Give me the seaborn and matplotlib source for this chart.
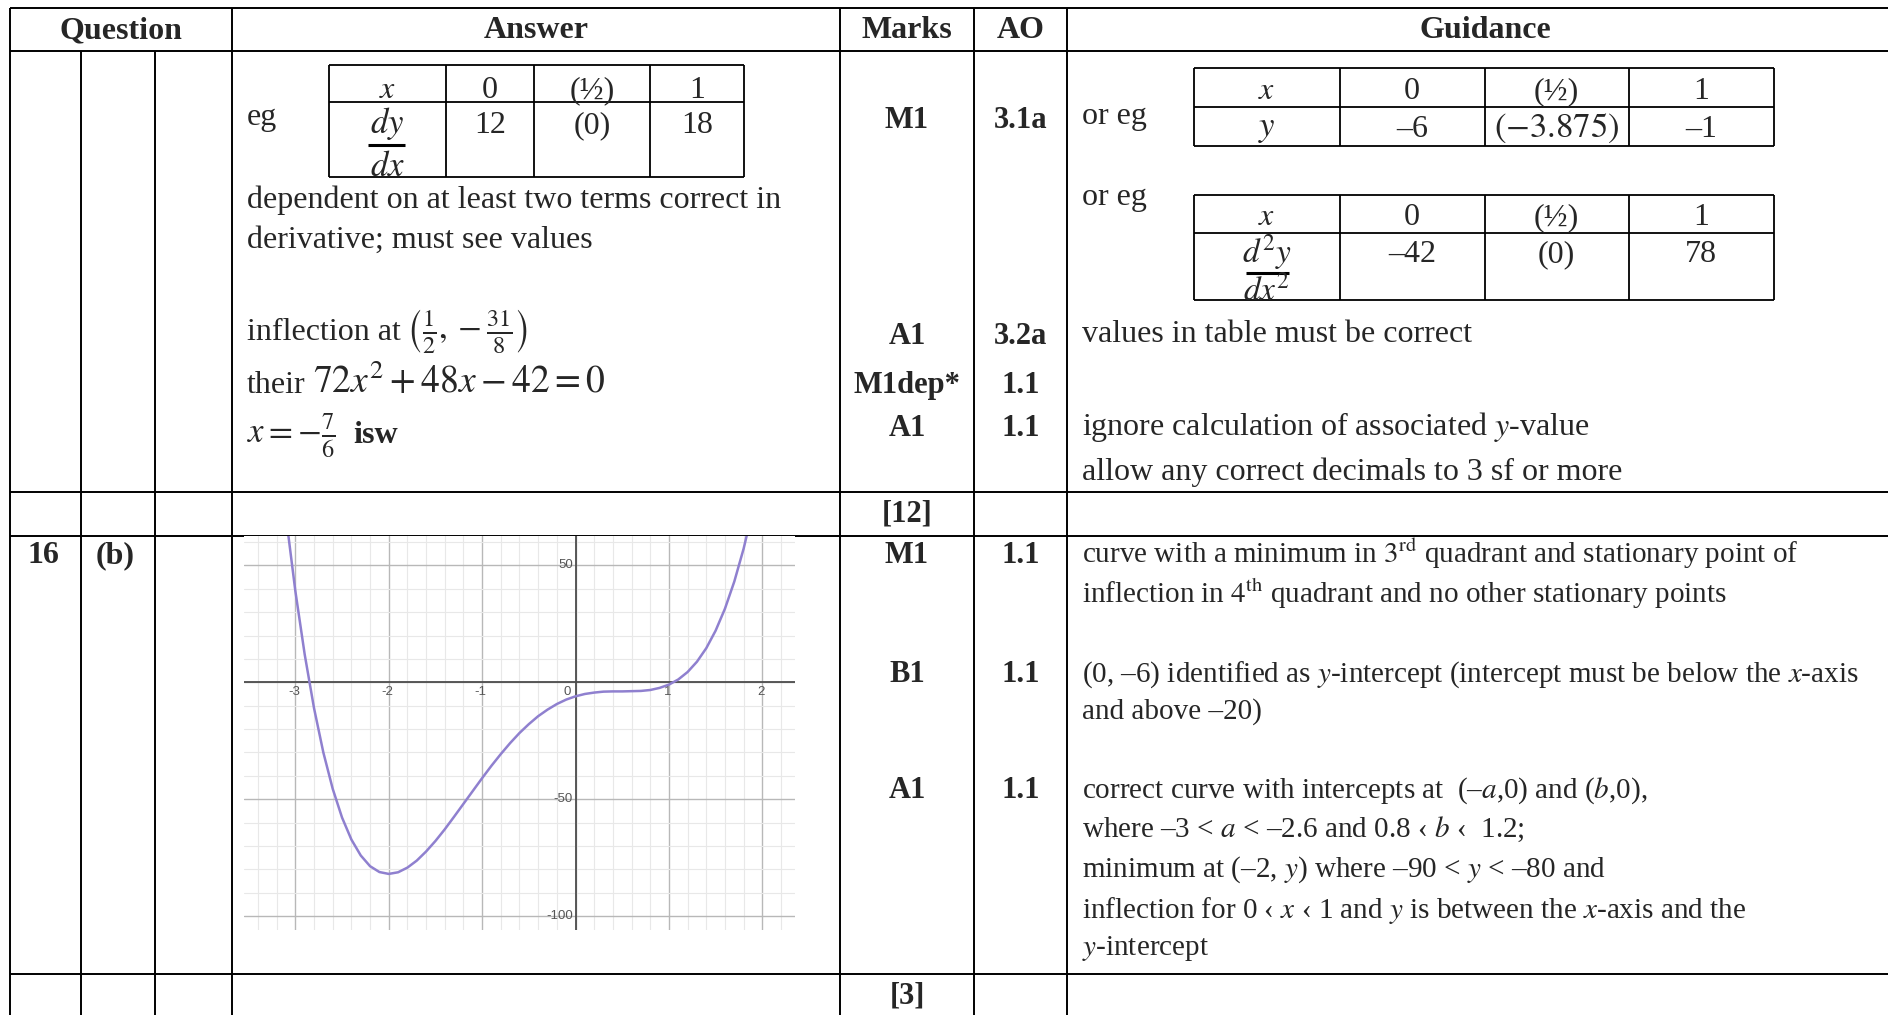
import matplotlib
matplotlib.use("Agg")
import matplotlib.pyplot as plt
from matplotlib.ticker import MultipleLocator
import seaborn as sns

# sketch graph for 16(b) (x step 0.1)
curve_x = [-3.1, -3.0, -2.9, -2.8, -2.7, -2.6, -2.5, -2.4, -2.3, -2.2, -2.1,
           -2.0, -1.9, -1.8, -1.7, -1.6, -1.5, -1.4, -1.3, -1.2, -1.1,
           -1.0, -0.9, -0.8, -0.7, -0.6, -0.5, -0.4, -0.3, -0.2, -0.1,
           0.0, 0.1, 0.2, 0.3, 0.4, 0.5, 0.6, 0.7, 0.8, 0.9,
           1.0, 1.1, 1.2, 1.3, 1.4, 1.5, 1.6, 1.7, 1.8, 1.9]
curve_y = [70.8, 39.0, 11.9, -11.1, -30.1, -45.6, -57.9, -67.3, -74.1, -78.7, -81.2,
           -82.0, -81.3, -79.3, -76.3, -72.4, -67.9, -62.9, -57.5, -52.0, -46.5,
           -41.0, -35.7, -30.7, -26.0, -21.7, -17.9, -14.5, -11.7, -9.3, -7.4,
           -6.0, -5.0, -4.4, -4.0, -3.9, -3.9, -3.8, -3.7, -3.3, -2.4,
           -1.0, 1.2, 4.4, 8.8, 14.6, 22.1, 31.5, 43.1, 57.2, 74.1]
graph_xlabels = [-3, -2, -1, 0, 1, 2]
graph_ylabels = [50, -50, -100]

# small value tables
tab_x = ['$x$', '0', '(½)', '1']
tab_dydx = ['12', '(0)', '18']
tab_y = ['–6', '$(-3.875)$', '–1']
tab_d2y = ['–42', '(0)', '78']

headers = ['Question', 'Answer', 'Marks', 'AO', 'Guidance']
marks_rows = [('M1', '3.1a', 128), ('A1', '3.2a', 344), ('M1dep*', '1.1', 393),
              ('A1', '1.1', 436), ('M1', '1.1', 563), ('B1', '1.1', 682),
              ('A1', '1.1', 798)]
totals = [('[12]', 522), ('[3]', 1003)]

answer_lines = [
    ('dependent on at least two terms correct in', 208),
    ('derivative; must see values', 248),
]
guidance_top = [
    ('values in table must be correct', 342),
    ('ignore calculation of associated $y$-value', 435),
    ('allow any correct decimals to 3 sf or more', 480),
]
guidance_bottom = [
    (r'curve with a minimum in $3^{\mathrm{rd}}$ quadrant and stationary point of', 563),
    (r'inflection in $4^{\mathrm{th}}$ quadrant and no other stationary points', 603),
    ('(0, –6) identified as $y$-intercept (intercept must be below the $x$-axis', 682),
    ('and above –20)', 719),
    ('correct curve with intercepts at  (–$a$,0) and ($b$,0),', 798),
    ('where –3 < $a$ < –2.6 and 0.8 ‹ $b$ ‹  1.2;', 837),
    ('minimum at (–2, $y$) where –90 < $y$ < –80 and', 877),
    ('inflection for 0 ‹ $x$ ‹ 1 and $y$ is between the $x$-axis and the', 918),
    ('$y$-intercept', 955),
]

sns.set_style("white")
plt.rcParams['font.family'] = ['Liberation Serif', 'DejaVu Serif']
plt.rcParams['mathtext.fontset'] = 'stix'

W, H = 1888, 1015
fig = plt.figure(figsize=(W / 100, H / 100), dpi=100)
ax = fig.add_axes([0, 0, 1, 1])
ax.set_xlim(0, W)
ax.set_ylim(H, 0)
ax.axis('off')

LW = 1.4


def hline(y, x0, x1, lw=LW):
    ax.plot([x0, x1], [y, y], color='black', lw=lw, solid_capstyle='butt')


def vline(x, y0, y1, lw=LW):
    ax.plot([x, x], [y0, y1], color='black', lw=lw, solid_capstyle='butt')


def put(x, y, s, size=23, ha='left', weight='normal'):
    ax.text(x, y, s, fontsize=size, ha=ha, va='baseline', fontweight=weight)


# main grid of the mark scheme
for y in [8, 50.5, 492, 536, 974]:
    hline(y, 9.6, W)
for x in [9.6, 232.4, 840.4, 974, 1067]:
    vline(x, 8, H)
for x in [80.7, 155.3]:
    vline(x, 50.5, H)

head_x = [121, 536, 907, 1020.5, 1485]
for hx, h in zip(head_x, headers):
    put(hx, 38, h, ha='center', weight='bold')

# answer column
put(247, 125, 'eg')
for s, y in answer_lines:
    put(247, y, s)
put(247, 340, 'inflection at')
put(406, 340, r'$\left(\frac{1}{2},-\frac{31}{8}\right)$', size=25)
put(247, 393, 'their')
put(313, 393, r'$72x^2+48x-42=0$', size=27)
put(247, 443, r'$x=-\frac{7}{6}$', size=25)
put(353, 443, 'isw', weight='bold')

# dy/dx table
dx_cols = [329, 445.5, 534, 650, 744]
for y in [65, 102, 177]:
    hline(y, dx_cols[0], dx_cols[-1], lw=1.3)
for x in dx_cols:
    vline(x, 65, 177, lw=1.3)
dx_mid = [(a + b) / 2 for a, b in zip(dx_cols[:-1], dx_cols[1:])]
for cx, s in zip(dx_mid, tab_x):
    put(cx, 98, s, ha='center')
put(dx_mid[0], 133, '$dy$', size=25, ha='center')
hline(145, 368, 405, lw=2.2)
put(dx_mid[0], 176, '$dx$', size=25, ha='center')
for cx, s in zip(dx_mid[1:], tab_dydx):
    put(cx, 133, s, ha='center')

# guidance column
put(1082, 124, 'or eg')
put(1082, 205, 'or eg')
g_cols = [1194, 1339.5, 1484.5, 1628.5, 1773.5]
g_mid = [(a + b) / 2 for a, b in zip(g_cols[:-1], g_cols[1:])]
for y in [68, 107, 146]:
    hline(y, g_cols[0], g_cols[-1], lw=1.3)
for y in [195, 233, 300]:
    hline(y, g_cols[0], g_cols[-1], lw=1.3)
for x in g_cols:
    vline(x, 68, 146, lw=1.3)
    vline(x, 195, 300, lw=1.3)
for cx, s in zip(g_mid, tab_x):
    put(cx, 99, s, ha='center')
    put(cx, 225, s, ha='center')
put(g_mid[0], 136, '$y$', size=25, ha='center')
for cx, s in zip(g_mid[1:], tab_y):
    put(cx, 137, s, size=25 if s.startswith('$') else 23, ha='center')
put(g_mid[0], 262, '$d^2y$', size=24, ha='center')
hline(273, 1246, 1289, lw=2.2)
put(g_mid[0], 300, '$dx^2$', size=24, ha='center')
for cx, s in zip(g_mid[1:], tab_d2y):
    put(cx, 262, s, ha='center')

for s, y in guidance_top:
    put(1082, y, s)
for s, y in guidance_bottom:
    put(1082, y, s, size=21)

# marks and AO
for m, ao, y in marks_rows:
    put(907, y, m, size=22, ha='center', weight='bold')
    put(1020.5, y, ao, size=22, ha='center', weight='bold')
for t, y in totals:
    put(907, y, t, size=22, ha='center', weight='bold')

put(27, 563, '16', weight='bold')
put(96, 563, '(b)', weight='bold')

# embedded sketch graph
gl, gr, gt, gb = 244, 795, 536, 930
gax = fig.add_axes([gl / W, 1 - gb / H, (gr - gl) / W, (gb - gt) / H], zorder=3)
gax.set_facecolor('white')
gax.xaxis.set_major_locator(MultipleLocator(1))
gax.xaxis.set_minor_locator(MultipleLocator(0.2))
gax.yaxis.set_major_locator(MultipleLocator(50))
gax.yaxis.set_minor_locator(MultipleLocator(10))
gax.grid(which='minor', color='#e8e8e8', lw=0.8)
gax.grid(which='major', color='#b8b8b8', lw=1.0)
gax.set_axisbelow(True)
gax.tick_params(which='both', length=0, labelbottom=False, labelleft=False)
for sp in gax.spines.values():
    sp.set_visible(False)
gax.axhline(0, color='#4d4d4d', lw=1.3, zorder=1.5)
gax.axvline(0, color='#4d4d4d', lw=1.3, zorder=1.5)
sns.lineplot(x=curve_x, y=curve_y, ax=gax, color='#8f80cf', linewidth=1.8,
             sort=False, estimator=None, zorder=4)
gax.set_xlim(-3.55, 2.35)
gax.set_ylim(-106, 62.6)
gax.set_xlabel('')
gax.set_ylabel('')

lab_kw = dict(fontsize=9.5, color='#555555', family=['Liberation Sans'],
              textcoords='offset points')
for v in graph_xlabels:
    if v == 0:
        gax.annotate('0', (v, 0), xytext=(-3, -3), ha='right', va='top', **lab_kw)
    else:
        gax.annotate(str(v), (v, 0), xytext=(-1, -3), ha='center', va='top', **lab_kw)
for v in graph_ylabels:
    gax.annotate(str(v), (0, v), xytext=(-2, 0), ha='right', va='center', **lab_kw)

fig.savefig('out.png', dpi=100)
